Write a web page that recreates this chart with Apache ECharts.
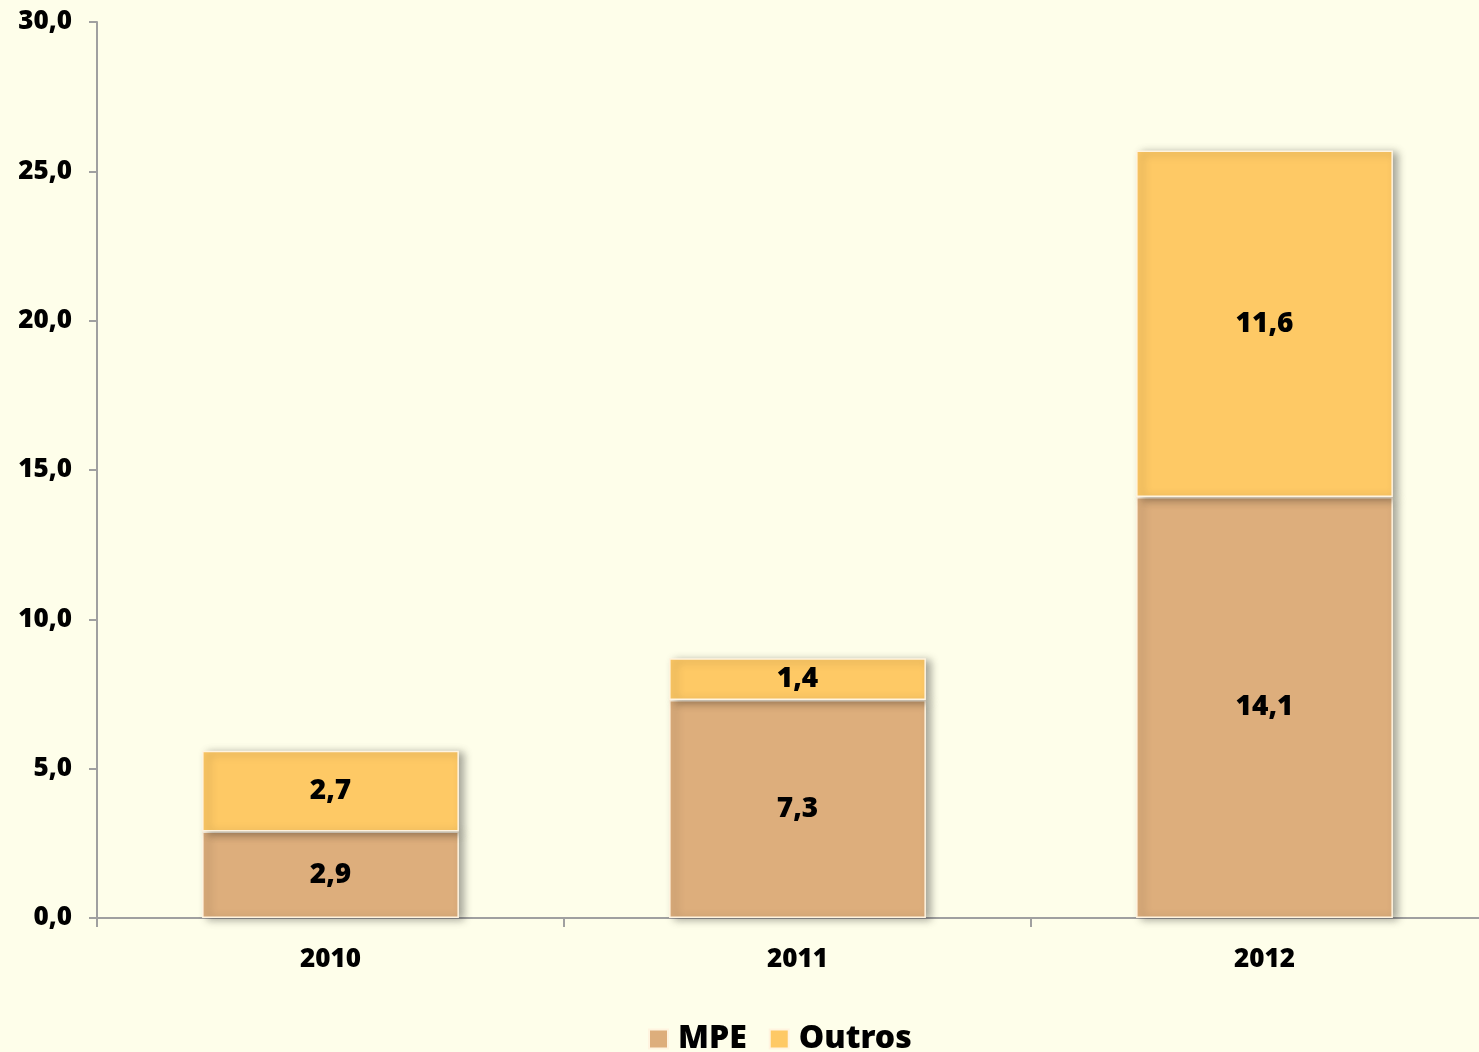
<!DOCTYPE html>
<html>
<head>
<meta charset="utf-8">
<script src="https://cdn.jsdelivr.net/npm/echarts@6/dist/echarts.min.js"></script>
<style>
  html, body { margin: 0; padding: 0; background: #fefeea; }
  #chart { width: 1479px; height: 1052px; }
</style>
</head>
<body>
<div id="chart"></div>
<script>
const years = ['2010', '2011', '2012']
const mpe = [2.9, 7.3, 14.1]
const outros = [2.7, 1.4, 11.6]

const fmt = v => v.toFixed(1).replace('.', ',')
const font = 'Noto Sans'

const chart = echarts.init(document.getElementById('chart'))

const barStyle = color => ({
  color: color,
  borderColor: '#fff4e0',
  borderWidth: 1.5,
  shadowColor: 'rgba(0,0,0,0.35)',
  shadowBlur: 8,
  shadowOffsetX: 5,
  shadowOffsetY: 2
})

const label = {
  show: true,
  position: 'inside',
  color: '#000',
  fontFamily: font,
  fontWeight: 900,
  fontSize: 28,
  formatter: p => fmt(p.value)
}

chart.setOption({
  backgroundColor: '#fefeea',
  animation: false,
  grid: {
    left: 97,
    width: 1401,
    top: 22,
    bottom: 134,
    outerBoundsMode: 'none'
  },
  legend: {
    data: ['MPE', 'Outros'],
    bottom: -8,
    left: 643,
    itemWidth: 19,
    itemHeight: 19,
    itemGap: 22,
    icon: 'rect',
    textStyle: {
      color: '#000',
      fontFamily: font,
      fontWeight: 900,
      fontSize: 32,
      padding: [0, 0, 0, 5]
    }
  },
  xAxis: {
    type: 'category',
    data: years,
    axisLine: { lineStyle: { color: '#a0a0a0', width: 2 } },
    axisTick: { show: true, length: 9, lineStyle: { color: '#a0a0a0', width: 2 } },
    axisLabel: {
      color: '#000',
      fontFamily: font,
      fontWeight: 900,
      fontSize: 26,
      margin: 29
    }
  },
  yAxis: {
    type: 'value',
    min: 0,
    max: 30,
    interval: 5,
    axisLine: { show: true, lineStyle: { color: '#a0a0a0', width: 2 } },
    axisTick: { show: true, length: 8, lineStyle: { color: '#a0a0a0', width: 2 } },
    splitLine: { show: false },
    axisLabel: {
      color: '#000',
      fontFamily: font,
      fontWeight: 900,
      fontSize: 26,
      margin: 25,
      formatter: v => fmt(v)
    }
  },
  series: [
    {
      name: 'MPE',
      type: 'bar',
      stack: 'total',
      barWidth: '55%',
      itemStyle: barStyle('#ddae7c'),
      label: label,
      data: mpe
    },
    {
      name: 'Outros',
      type: 'bar',
      stack: 'total',
      barWidth: '55%',
      itemStyle: barStyle('#fec965'),
      label: label,
      data: outros
    }
  ]
})
</script>
</body>
</html>
